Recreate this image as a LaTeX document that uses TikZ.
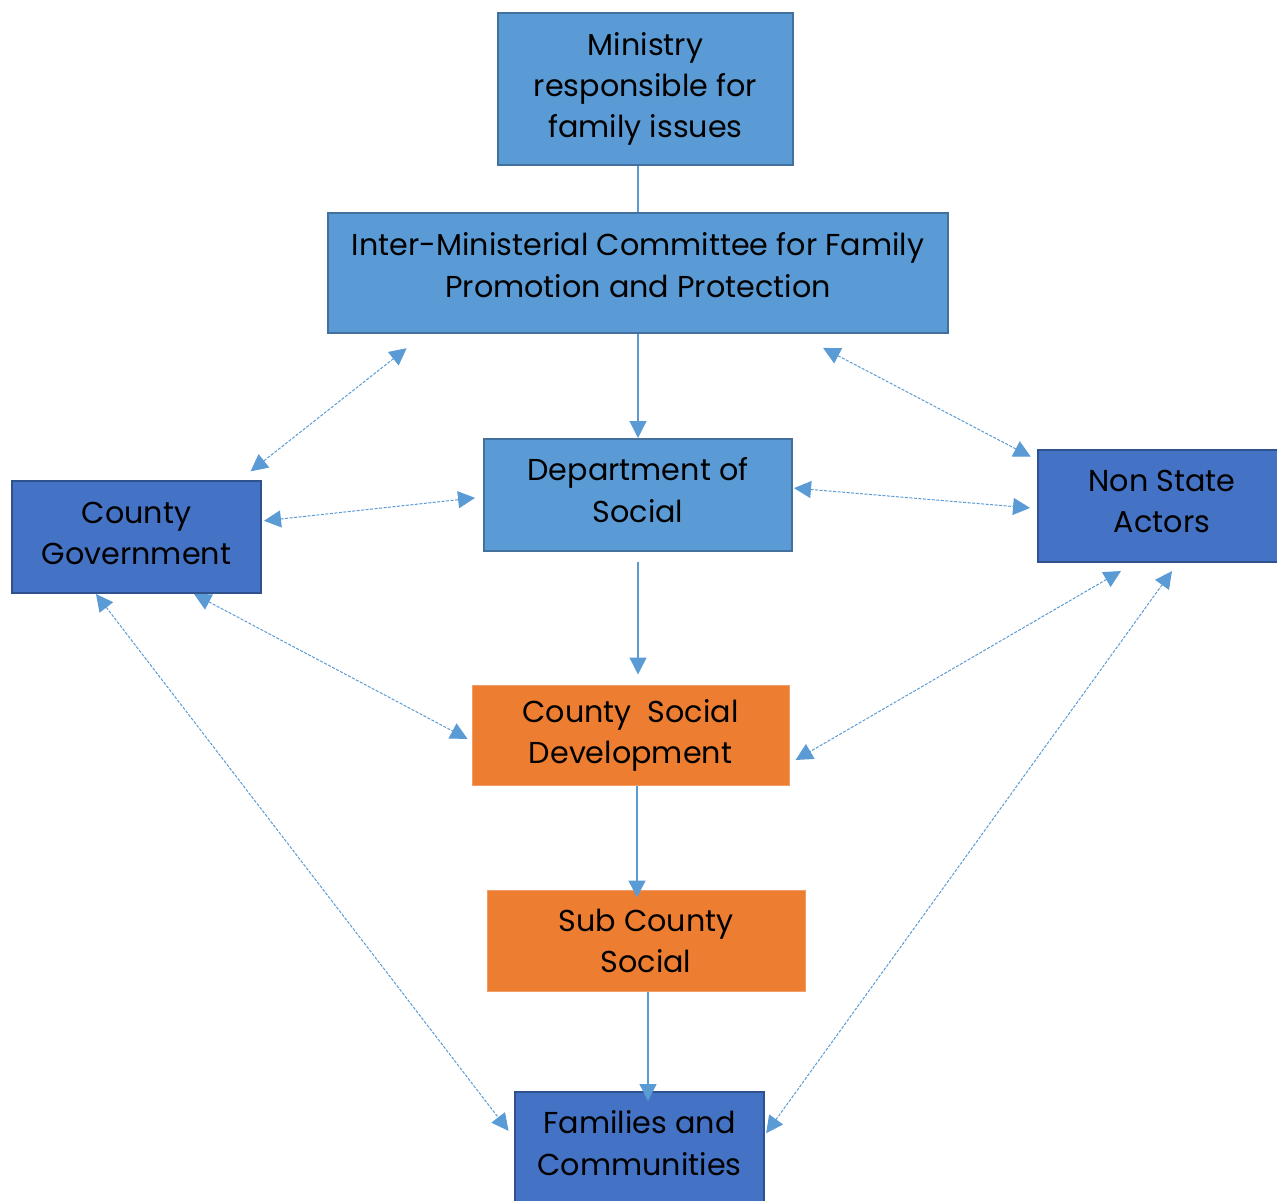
\documentclass[tikz,border=0pt]{standalone}
\usepackage{fontspec}
\setmainfont{Poppins}
\usetikzlibrary{arrows.meta}
\definecolor{lightfill}{HTML}{5B9BD5}
\definecolor{lightedge}{HTML}{41719C}
\definecolor{darkfill}{HTML}{4472C4}
\definecolor{darkedge}{HTML}{2F528F}
\definecolor{orangefill}{HTML}{ED7D31}

\begin{document}
\begin{tikzpicture}[inner sep=0mm,font=\fontsize{8.6}{11.7}\selectfont,
  lightbox/.style={rectangle,draw=lightedge,fill=lightfill,line width=.2mm,align=center},
  darkbox/.style={rectangle,draw=darkedge,fill=darkfill,line width=.2mm,align=center},
  orangebox/.style={rectangle,draw=orangefill!75!white,fill=orangefill,line width=.1mm,align=center},
  link/.style={draw=lightfill,line width=.13mm,-{Triangle[length=1.7mm,width=1.7mm]}},
  dlink/.style={draw=lightfill,line width=.1mm,dash pattern=on .3mm off .15mm,
    {Triangle[length=1.7mm,width=1.7mm]}-{Triangle[length=1.7mm,width=1.7mm]}}]
\useasboundingbox (0,0) rectangle (12.77,12);
\node at (6.455,11.11) [lightbox,minimum width=2.95cm,minimum height=1.52cm] (Ministry) {Ministry\\responsible for\\family issues};
\node at (6.38,9.27) [lightbox,minimum width=6.2cm,minimum height=1.2cm,text depth=.16cm] (Committee) {Inter-Ministerial Committee for Family\\Promotion and Protection};
\node at (6.38,7.05) [lightbox,minimum width=3.08cm,minimum height=1.12cm,text depth=.1cm] (Department) {Department of\\Social};
\node at (1.365,6.63) [darkbox,minimum width=2.49cm,minimum height=1.12cm,text depth=.08cm] (CountyGov) {County\\Government};
\node at (11.62,6.94) [darkbox,minimum width=2.48cm,minimum height=1.12cm,text depth=.1cm] (NonState) {Non State\\Actors};
\node at (6.305,4.65) [orangebox,minimum width=3.17cm,minimum height=1cm] (CountySocial) {County~~Social\\Development};
\node at (6.46,2.595) [orangebox,minimum width=3.18cm,minimum height=1.01cm] (SubCounty) {Sub County\\Social};
\node at (6.395,.52) [darkbox,minimum width=2.49cm,minimum height=1.12cm,text depth=.1cm] (Families) {Families and\\Communities};
\draw [draw=lightfill,line width=.13mm] (Ministry.south -| Committee.north) -- (Committee.north);
\draw [link] (Committee.south) -- (Department.north);
\draw [link,shorten <=1mm,shorten >=1mm] (Department.south) -- (Department.south |- CountySocial.north);
\draw [link,shorten >=-.8mm] ([xshift=.065cm]CountySocial.south) -- ([xshift=.065cm]CountySocial.south |- SubCounty.north);
\draw [link,shorten >=-1mm] ([xshift=.02cm]SubCounty.south) -- ([xshift=.02cm]SubCounty.south |- Families.north);
\draw [dlink,shorten <=2.3mm,shorten >=1.4mm] ([xshift=.977cm]Committee.south west) -- ([xshift=-.224cm]CountyGov.north east);
\draw [dlink,shorten <=3mm,shorten >=.7mm] ([xshift=-1.525cm]Committee.south east) -- ([yshift=-.11cm]NonState.north west);
\draw [dlink,shorten <=.2mm,shorten >=.8mm] ([yshift=.16cm]CountyGov.east) -- ([yshift=-.02cm]Department.west);
\draw [dlink,shorten <=.1mm,shorten >=.7mm] ([yshift=.07cm]Department.east) -- ([yshift=-.025cm]NonState.west);
\draw [dlink,shorten >=.45mm] ([xshift=-.68cm]CountyGov.south east) -- ([yshift=-.06cm]CountySocial.west);
\draw [dlink,shorten <=1.6mm,shorten >=.7mm] ([xshift=.978cm]NonState.south west) -- ([yshift=-.285cm]CountySocial.east);
\draw [dlink,shorten >=.9mm] ([xshift=.85cm]CountyGov.south west) -- ([yshift=-.47cm]Families.north west);
\draw [dlink,shorten <=1mm,shorten >=.2mm] ([xshift=1.408cm]NonState.south west) -- ([yshift=-.438cm]Families.north east);
\end{tikzpicture}
\end{document}
